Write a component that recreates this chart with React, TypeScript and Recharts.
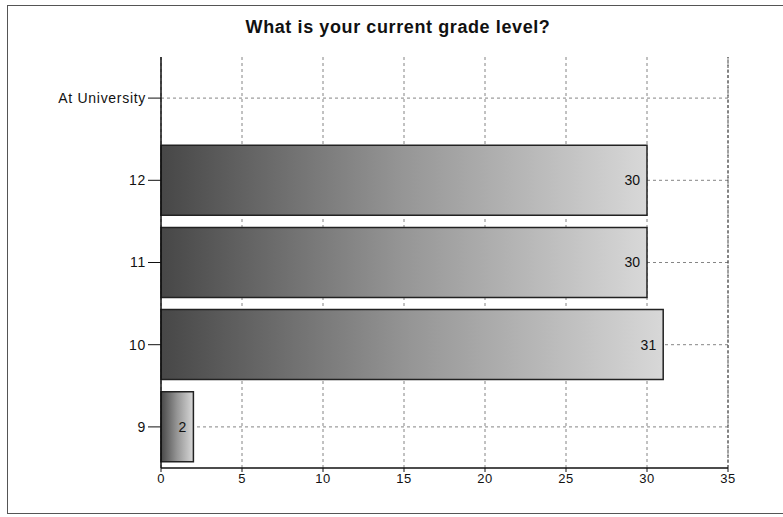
import { Bar, BarChart, CartesianGrid, LabelList, ReferenceLine, XAxis, YAxis } from 'recharts';

const grades = ['At University', '12', '11', '10', '9'];
const counts = [0, 30, 30, 31, 2];
const xTicks = [0, 5, 10, 15, 20, 25, 30, 35];

const data = grades.map((grade, i) => ({ grade, count: counts[i] }));

const font = '"Liberation Sans", Arial, sans-serif';

export default function App() {
  return (
    <div style={{ position: 'absolute', left: 0, top: 0, width: 783, height: 517, background: '#fff' }}>
      <div
        style={{
          position: 'absolute',
          left: 7,
          top: 5,
          width: 790,
          height: 507,
          borderLeft: '1px solid #555',
          borderTop: '1px solid #555',
          borderBottom: '1px solid #555',
        }}
      />
      <div
        style={{
          position: 'absolute',
          top: 17,
          left: 0,
          width: 796,
          textAlign: 'center',
          fontFamily: font,
          fontWeight: 'bold',
          fontSize: 18,
          letterSpacing: 0.6,
          color: '#111',
        }}
      >
        What is your current grade level?
      </div>
      <div style={{ position: 'absolute', left: 0, top: 0 }}>
        <BarChart
          width={783}
          height={517}
          data={data}
          layout="vertical"
          margin={{ top: 57, right: 55, bottom: 19, left: 47 }}
        >
          <defs>
            <linearGradient id="barFill" x1="0" y1="0" x2="1" y2="0">
              <stop offset="0%" stopColor="#474747" />
              <stop offset="50%" stopColor="#969696" />
              <stop offset="100%" stopColor="#d8d8d8" />
            </linearGradient>
          </defs>
          <CartesianGrid horizontal={false} strokeDasharray="3 3" stroke="#666" strokeWidth={0.8} />
          <XAxis
            type="number"
            domain={[0, 35]}
            ticks={xTicks}
            tick={{ fontSize: 13, fill: '#111', fontFamily: font, letterSpacing: 0.4 }}
            tickLine={{ stroke: '#111' }}
            tickSize={4}
            axisLine={{ stroke: '#111', strokeWidth: 1.5 }}
          />
          <YAxis
            type="category"
            dataKey="grade"
            width={114}
            tick={{ fontSize: 14, fill: '#111', fontFamily: font, letterSpacing: 0.7 }}
            tickLine={{ stroke: '#111' }}
            tickSize={13}
            axisLine={{ stroke: '#111', strokeWidth: 1.5 }}
          />
          {grades.map((g) => (
            <ReferenceLine
              key={g}
              y={g}
              stroke="#666"
              strokeWidth={0.8}
              strokeDasharray="3 3"
              {...({ zIndex: -100 } as any)}
            />
          ))}
          <ReferenceLine x={35} stroke="#444" strokeDasharray="3 2" />
          <Bar
            dataKey="count"
            fill="url(#barFill)"
            stroke="#222"
            strokeWidth={1.5}
            barSize={70}
            isAnimationActive={false}
          >
            <LabelList
              dataKey="count"
              position="insideRight"
              offset={7}
              formatter={(v: unknown) => (Number(v) > 0 ? String(v) : '')}
              style={{ fontSize: 14, fill: '#111', fontFamily: font }}
            />
          </Bar>
        </BarChart>
      </div>
    </div>
  );
}
